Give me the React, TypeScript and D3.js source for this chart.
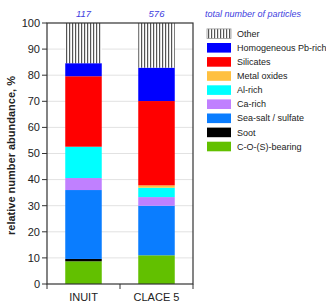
import React from "react";
import * as d3 from "d3";

const categories = ["INUIT", "CLACE 5"];
const counts = ["117", "576"];
const seriesNames = [
  "C-O-(S)-bearing",
  "Soot",
  "Sea-salt / sulfate",
  "Ca-rich",
  "Al-rich",
  "Metal oxides",
  "Silicates",
  "Homogeneous Pb-rich",
  "Other",
];
const inuitValues = [8.7, 0.9, 26.4, 4.6, 12, 0, 27, 5, 15.4];
const claceValues = [11, 0, 19, 3.3, 3.6, 0.9, 32.3, 12.8, 17.1];
const seriesColors = [
  "#62c000",
  "#000000",
  "#0a7dff",
  "#c080ff",
  "#00ffff",
  "#ffc040",
  "#ff0000",
  "#0000ff",
  "url(#hatch)",
];
const yTicks = [0, 10, 20, 30, 40, 50, 60, 70, 80, 90, 100];

export default function App() {
  const W = 326, H = 307;
  const left = 47, right = 193, top = 23, bottom = 284;
  const x = d3.scaleBand<string>().domain(categories).range([left, right]).paddingInner(0.5).paddingOuter(0.25);
  const y = d3.scaleLinear().domain([0, 100]).range([bottom, top]);
  const values = [inuitValues, claceValues];
  const rows = categories.map((c, ci) => {
    const obj: any = { cat: c };
    seriesNames.forEach((s, si) => (obj[s] = values[ci][si]));
    return obj;
  });
  const stack = d3.stack<any>().keys(seriesNames)(rows);
  const font = "'Liberation Sans', Arial, Helvetica, sans-serif";
  const legendOrder = [...seriesNames].reverse();
  const legendColors = [...seriesColors].reverse();

  return (
    <svg width={W} height={H} style={{ position: "absolute", left: 0, top: 0 }} fontFamily={font}>
      <defs>
        <pattern id="hatch" patternUnits="userSpaceOnUse" width={3} height={10} x={66}>
          <rect width={3} height={10} fill="#fff" />
          <rect x={0} width={1.2} height={10} fill="#555" />
        </pattern>
        <pattern id="hatchL" patternUnits="userSpaceOnUse" width={3} height={10} x={208}>
          <rect width={3} height={10} fill="#fff" />
          <rect x={0} width={1.2} height={10} fill="#555" />
        </pattern>
      </defs>
      <rect width={W} height={H} fill="#fff" />
      {yTicks.map((t) => (
        <g key={t}>
          {t > 0 && t < 100 && (
            <line x1={left} x2={right} y1={y(t)} y2={y(t)} stroke="#e2e2e2" strokeWidth={1} />
          )}
          <line x1={left - 5} x2={left} y1={y(t)} y2={y(t)} stroke="#333" />
          <text x={left - 7} y={y(t)} dy="0.35em" textAnchor="end" fontSize={11} fill="#222">
            {t}
          </text>
        </g>
      ))}
      {stack.map((layer, si) =>
        layer.map((d, ci) => (
          d[1] - d[0] > 0 ? (
            <rect
              key={`${si}-${ci}`}
              x={x(categories[ci])}
              width={x.bandwidth()}
              y={y(d[1])}
              height={y(d[0]) - y(d[1])}
              fill={seriesColors[si]}
            />
          ) : null
        ))
      )}
      <rect x={left} y={top} width={right - left} height={bottom - top} fill="none" stroke="#333" strokeWidth={1.2} />
      {[left, (left + right) / 2, right].map((tx, i) => (
        <line key={i} x1={tx} x2={tx} y1={bottom} y2={bottom + 5} stroke="#333" />
      ))}
      {categories.map((c, i) => (
        <g key={c}>
          <text x={x(c)! + x.bandwidth() / 2} y={301} textAnchor="middle" fontSize={11} fill="#222">
            {c}
          </text>
          <text x={x(c)! + x.bandwidth() / 2} y={17} textAnchor="middle" fontSize={9.5} fontStyle="italic" fill="#4040e0">
            {counts[i]}
          </text>
        </g>
      ))}
      <text
        transform={`translate(15, ${(top + bottom) / 2 + 2}) rotate(-90)`}
        textAnchor="middle"
        fontSize={11}
        fontWeight="bold"
        fill="#222"
      >
        relative number abundance, %
      </text>
      <text x={205} y={17} fontSize={9} fontStyle="italic" fill="#4040e0">
        total number of particles
      </text>
      {legendOrder.map((s, i) => {
        const cy = 33.7 + i * 14.1;
        return (
          <g key={s}>
            {i === 0 ? (
              <rect x={207} y={cy - 4.8} width={24} height={9.6} fill="url(#hatchL)" stroke="#999" strokeWidth={0.8} />
            ) : (
              <rect x={207} y={cy - 4.8} width={24} height={9.6} fill={legendColors[i]} />
            )}
            <text x={237} y={cy} dy="0.35em" fontSize={9} fill="#222">
              {s}
            </text>
          </g>
        );
      })}
    </svg>
  );
}
